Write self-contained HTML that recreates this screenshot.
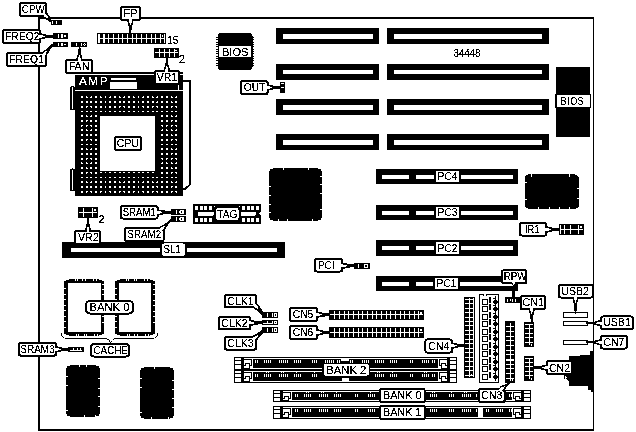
<!DOCTYPE html>
<html lang="en">
<head>
<meta charset="utf-8">
<title>Motherboard layout 34448</title>
<style>
html,body{margin:0;padding:0;background:#fff;}
body{width:636px;height:432px;overflow:hidden;}
svg{display:block;font-family:"Liberation Sans",Arial,Helvetica,sans-serif;font-size:11.5px;}
</style>
</head>
<body>
<svg width="636" height="432" viewBox="0 0 636 432">
<defs>
<filter id="bw" filterUnits="userSpaceOnUse" x="0" y="0" width="636" height="432" color-interpolation-filters="sRGB">
<feComponentTransfer>
<feFuncR type="discrete" tableValues="0 1"/>
<feFuncG type="discrete" tableValues="0 1"/>
<feFuncB type="discrete" tableValues="0 1"/>
</feComponentTransfer>
</filter>
</defs>
<g filter="url(#bw)" text-anchor="middle" stroke-linejoin="round">
<rect x="0" y="0" width="636" height="432" fill="#fff"/>
<rect x="38" y="17" width="2" height="414"/>
<rect x="38" y="17" width="556" height="2"/>
<rect x="593" y="17" width="1" height="414"/>
<rect x="38" y="429" width="556" height="2"/>
<rect x="276" y="28" width="103" height="16"/>
<rect x="283" y="34" width="90" height="5" fill="#fff"/>
<rect x="387" y="28" width="162" height="16"/>
<rect x="394" y="34" width="148" height="5" fill="#fff"/>
<rect x="276" y="64" width="103" height="16"/>
<rect x="283" y="70" width="90" height="4" fill="#fff"/>
<rect x="387" y="64" width="162" height="16"/>
<rect x="394" y="70" width="148" height="4" fill="#fff"/>
<rect x="276" y="99" width="103" height="16"/>
<rect x="283" y="105" width="90" height="5" fill="#fff"/>
<rect x="387" y="99" width="162" height="16"/>
<rect x="394" y="105" width="148" height="5" fill="#fff"/>
<rect x="276" y="134" width="103" height="16"/>
<rect x="283" y="140" width="90" height="5" fill="#fff"/>
<rect x="387" y="134" width="162" height="16"/>
<rect x="394" y="140" width="148" height="5" fill="#fff"/>
<text x="467" y="57" font-size="10.2" textLength="27" lengthAdjust="spacingAndGlyphs" stroke="#000" stroke-width="0.17">34448</text>
<rect x="376" y="169" width="142" height="15"/>
<rect x="382" y="175" width="27" height="4" fill="#fff"/>
<rect x="416" y="175" width="96.5" height="4" fill="#fff"/>
<rect x="434" y="170" width="27" height="13"/>
<rect x="436" y="171" width="23" height="11" rx="1" fill="#fff"/>
<text x="447.5" y="180.3" textLength="19.8" lengthAdjust="spacingAndGlyphs" stroke="#000" stroke-width="0.17">PC4</text>
<rect x="376" y="205" width="142" height="15"/>
<rect x="382" y="211" width="27" height="4" fill="#fff"/>
<rect x="416" y="211" width="96.5" height="4" fill="#fff"/>
<rect x="434" y="206" width="27" height="13"/>
<rect x="436" y="207" width="23" height="11" rx="1" fill="#fff"/>
<text x="447.5" y="216.3" textLength="19.8" lengthAdjust="spacingAndGlyphs" stroke="#000" stroke-width="0.17">PC3</text>
<rect x="376" y="240.5" width="142" height="15"/>
<rect x="382" y="246" width="27" height="4" fill="#fff"/>
<rect x="416" y="246" width="96.5" height="4" fill="#fff"/>
<rect x="434" y="241.5" width="27" height="13"/>
<rect x="436" y="242" width="23" height="12" rx="1" fill="#fff"/>
<text x="447.5" y="251.8" textLength="19.8" lengthAdjust="spacingAndGlyphs" stroke="#000" stroke-width="0.17">PC2</text>
<rect x="376" y="276" width="142" height="15"/>
<rect x="382" y="282" width="27" height="4" fill="#fff"/>
<rect x="416" y="282" width="96.5" height="4" fill="#fff"/>
<rect x="433" y="277" width="27" height="13"/>
<rect x="435" y="278" width="23" height="11" rx="1" fill="#fff"/>
<text x="446.5" y="287.3" textLength="19.8" lengthAdjust="spacingAndGlyphs" stroke="#000" stroke-width="0.17">PC1</text>
<rect x="62" y="242" width="223" height="16"/>
<rect x="71" y="248" width="206" height="4" fill="#fff"/>
<rect x="160.5" y="243" width="26" height="14"/>
<rect x="162" y="243.6" width="23" height="12.2" rx="1.8" fill="#fff"/>
<text x="172.3" y="253" textLength="17.4" lengthAdjust="spacingAndGlyphs" stroke="#000" stroke-width="0.17">SL1</text>
<rect x="75" y="72" width="108" height="2"/>
<rect x="75" y="75" width="108" height="14"/>
<rect x="72" y="89" width="111" height="1"/>
<rect x="75" y="91" width="108" height="105.4"/>
<rect x="111" y="78" width="25" height="2" fill="#fff"/>
<rect x="110" y="82" width="27" height="7" fill="#fff"/>
<rect x="178" y="85" width="1" height="5" fill="#fff"/>
<text x="79" y="84.6" font-size="11.8" text-anchor="start" fill="#fff" stroke="#fff" stroke-width="0.17" stroke-width="0" letter-spacing="1.5">AMP</text>
<rect x="70" y="86" width="5" height="24" rx="1.5"/>
<rect x="72" y="87.5" width="1" height="21" fill="#fff"/>
<rect x="70" y="168.5" width="5" height="22.5" rx="1.5"/>
<rect x="72" y="170" width="1" height="19.5" fill="#fff"/>
<polygon points="183,80.5 191,80.5 191,185 185.5,190 183,190"/>
<polygon points="183,82.5 189,82.5 189,184.2 185,187.8 183,187.8" fill="#fff"/>
<rect x="80.95" y="96.35" width="1.9" height="1.9" fill="#fff"/>
<rect x="80.95" y="101.07" width="1.9" height="1.9" fill="#fff"/>
<rect x="80.95" y="105.79" width="1.9" height="1.9" fill="#fff"/>
<rect x="80.95" y="110.51" width="1.9" height="1.9" fill="#fff"/>
<rect x="80.95" y="115.23" width="1.9" height="1.9" fill="#fff"/>
<rect x="80.95" y="119.95" width="1.9" height="1.9" fill="#fff"/>
<rect x="80.95" y="124.67" width="1.9" height="1.9" fill="#fff"/>
<rect x="80.95" y="129.39" width="1.9" height="1.9" fill="#fff"/>
<rect x="80.95" y="134.11" width="1.9" height="1.9" fill="#fff"/>
<rect x="80.95" y="138.83" width="1.9" height="1.9" fill="#fff"/>
<rect x="80.95" y="143.55" width="1.9" height="1.9" fill="#fff"/>
<rect x="80.95" y="148.27" width="1.9" height="1.9" fill="#fff"/>
<rect x="80.95" y="152.99" width="1.9" height="1.9" fill="#fff"/>
<rect x="80.95" y="157.71" width="1.9" height="1.9" fill="#fff"/>
<rect x="80.95" y="162.43" width="1.9" height="1.9" fill="#fff"/>
<rect x="80.95" y="167.15" width="1.9" height="1.9" fill="#fff"/>
<rect x="80.95" y="171.87" width="1.9" height="1.9" fill="#fff"/>
<rect x="80.95" y="176.59" width="1.9" height="1.9" fill="#fff"/>
<rect x="80.95" y="181.31" width="1.9" height="1.9" fill="#fff"/>
<rect x="80.95" y="186.03" width="1.9" height="1.9" fill="#fff"/>
<rect x="80.95" y="190.75" width="1.9" height="1.9" fill="#fff"/>
<rect x="85.67" y="96.35" width="1.9" height="1.9" fill="#fff"/>
<rect x="85.67" y="101.07" width="1.9" height="1.9" fill="#fff"/>
<rect x="85.67" y="105.79" width="1.9" height="1.9" fill="#fff"/>
<rect x="85.67" y="110.51" width="1.9" height="1.9" fill="#fff"/>
<rect x="85.67" y="115.23" width="1.9" height="1.9" fill="#fff"/>
<rect x="85.67" y="119.95" width="1.9" height="1.9" fill="#fff"/>
<rect x="85.67" y="124.67" width="1.9" height="1.9" fill="#fff"/>
<rect x="85.67" y="129.39" width="1.9" height="1.9" fill="#fff"/>
<rect x="85.67" y="134.11" width="1.9" height="1.9" fill="#fff"/>
<rect x="85.67" y="138.83" width="1.9" height="1.9" fill="#fff"/>
<rect x="85.67" y="143.55" width="1.9" height="1.9" fill="#fff"/>
<rect x="85.67" y="148.27" width="1.9" height="1.9" fill="#fff"/>
<rect x="85.67" y="152.99" width="1.9" height="1.9" fill="#fff"/>
<rect x="85.67" y="157.71" width="1.9" height="1.9" fill="#fff"/>
<rect x="85.67" y="162.43" width="1.9" height="1.9" fill="#fff"/>
<rect x="85.67" y="167.15" width="1.9" height="1.9" fill="#fff"/>
<rect x="85.67" y="171.87" width="1.9" height="1.9" fill="#fff"/>
<rect x="85.67" y="176.59" width="1.9" height="1.9" fill="#fff"/>
<rect x="85.67" y="181.31" width="1.9" height="1.9" fill="#fff"/>
<rect x="85.67" y="186.03" width="1.9" height="1.9" fill="#fff"/>
<rect x="85.67" y="190.75" width="1.9" height="1.9" fill="#fff"/>
<rect x="90.39" y="96.35" width="1.9" height="1.9" fill="#fff"/>
<rect x="90.39" y="101.07" width="1.9" height="1.9" fill="#fff"/>
<rect x="90.39" y="105.79" width="1.9" height="1.9" fill="#fff"/>
<rect x="90.39" y="110.51" width="1.9" height="1.9" fill="#fff"/>
<rect x="90.39" y="115.23" width="1.9" height="1.9" fill="#fff"/>
<rect x="90.39" y="119.95" width="1.9" height="1.9" fill="#fff"/>
<rect x="90.39" y="124.67" width="1.9" height="1.9" fill="#fff"/>
<rect x="90.39" y="129.39" width="1.9" height="1.9" fill="#fff"/>
<rect x="90.39" y="134.11" width="1.9" height="1.9" fill="#fff"/>
<rect x="90.39" y="138.83" width="1.9" height="1.9" fill="#fff"/>
<rect x="90.39" y="143.55" width="1.9" height="1.9" fill="#fff"/>
<rect x="90.39" y="148.27" width="1.9" height="1.9" fill="#fff"/>
<rect x="90.39" y="152.99" width="1.9" height="1.9" fill="#fff"/>
<rect x="90.39" y="157.71" width="1.9" height="1.9" fill="#fff"/>
<rect x="90.39" y="162.43" width="1.9" height="1.9" fill="#fff"/>
<rect x="90.39" y="167.15" width="1.9" height="1.9" fill="#fff"/>
<rect x="90.39" y="171.87" width="1.9" height="1.9" fill="#fff"/>
<rect x="90.39" y="176.59" width="1.9" height="1.9" fill="#fff"/>
<rect x="90.39" y="181.31" width="1.9" height="1.9" fill="#fff"/>
<rect x="90.39" y="186.03" width="1.9" height="1.9" fill="#fff"/>
<rect x="90.39" y="190.75" width="1.9" height="1.9" fill="#fff"/>
<rect x="95.11" y="96.35" width="1.9" height="1.9" fill="#fff"/>
<rect x="95.11" y="101.07" width="1.9" height="1.9" fill="#fff"/>
<rect x="95.11" y="105.79" width="1.9" height="1.9" fill="#fff"/>
<rect x="95.11" y="110.51" width="1.9" height="1.9" fill="#fff"/>
<rect x="95.11" y="115.23" width="1.9" height="1.9" fill="#fff"/>
<rect x="95.11" y="119.95" width="1.9" height="1.9" fill="#fff"/>
<rect x="95.11" y="124.67" width="1.9" height="1.9" fill="#fff"/>
<rect x="95.11" y="129.39" width="1.9" height="1.9" fill="#fff"/>
<rect x="95.11" y="134.11" width="1.9" height="1.9" fill="#fff"/>
<rect x="95.11" y="138.83" width="1.9" height="1.9" fill="#fff"/>
<rect x="95.11" y="143.55" width="1.9" height="1.9" fill="#fff"/>
<rect x="95.11" y="148.27" width="1.9" height="1.9" fill="#fff"/>
<rect x="95.11" y="152.99" width="1.9" height="1.9" fill="#fff"/>
<rect x="95.11" y="157.71" width="1.9" height="1.9" fill="#fff"/>
<rect x="95.11" y="162.43" width="1.9" height="1.9" fill="#fff"/>
<rect x="95.11" y="167.15" width="1.9" height="1.9" fill="#fff"/>
<rect x="95.11" y="171.87" width="1.9" height="1.9" fill="#fff"/>
<rect x="95.11" y="176.59" width="1.9" height="1.9" fill="#fff"/>
<rect x="95.11" y="181.31" width="1.9" height="1.9" fill="#fff"/>
<rect x="95.11" y="186.03" width="1.9" height="1.9" fill="#fff"/>
<rect x="95.11" y="190.75" width="1.9" height="1.9" fill="#fff"/>
<rect x="99.83" y="96.35" width="1.9" height="1.9" fill="#fff"/>
<rect x="99.83" y="101.07" width="1.9" height="1.9" fill="#fff"/>
<rect x="99.83" y="105.79" width="1.9" height="1.9" fill="#fff"/>
<rect x="99.83" y="110.51" width="1.9" height="1.9" fill="#fff"/>
<rect x="99.78" y="172.02" width="2" height="1" fill="#fff"/>
<rect x="99.83" y="176.59" width="1.9" height="1.9" fill="#fff"/>
<rect x="99.83" y="181.31" width="1.9" height="1.9" fill="#fff"/>
<rect x="99.83" y="186.03" width="1.9" height="1.9" fill="#fff"/>
<rect x="99.83" y="190.75" width="1.9" height="1.9" fill="#fff"/>
<rect x="104.55" y="96.35" width="1.9" height="1.9" fill="#fff"/>
<rect x="104.55" y="101.07" width="1.9" height="1.9" fill="#fff"/>
<rect x="104.55" y="105.79" width="1.9" height="1.9" fill="#fff"/>
<rect x="104.55" y="110.51" width="1.9" height="1.9" fill="#fff"/>
<rect x="104.5" y="172.02" width="2" height="1" fill="#fff"/>
<rect x="104.55" y="176.59" width="1.9" height="1.9" fill="#fff"/>
<rect x="104.55" y="181.31" width="1.9" height="1.9" fill="#fff"/>
<rect x="104.55" y="186.03" width="1.9" height="1.9" fill="#fff"/>
<rect x="104.55" y="190.75" width="1.9" height="1.9" fill="#fff"/>
<rect x="109.27" y="96.35" width="1.9" height="1.9" fill="#fff"/>
<rect x="109.27" y="101.07" width="1.9" height="1.9" fill="#fff"/>
<rect x="109.27" y="105.79" width="1.9" height="1.9" fill="#fff"/>
<rect x="109.27" y="110.51" width="1.9" height="1.9" fill="#fff"/>
<rect x="109.22" y="172.02" width="2" height="1" fill="#fff"/>
<rect x="109.27" y="176.59" width="1.9" height="1.9" fill="#fff"/>
<rect x="109.27" y="181.31" width="1.9" height="1.9" fill="#fff"/>
<rect x="109.27" y="186.03" width="1.9" height="1.9" fill="#fff"/>
<rect x="109.27" y="190.75" width="1.9" height="1.9" fill="#fff"/>
<rect x="113.99" y="96.35" width="1.9" height="1.9" fill="#fff"/>
<rect x="113.99" y="101.07" width="1.9" height="1.9" fill="#fff"/>
<rect x="113.99" y="105.79" width="1.9" height="1.9" fill="#fff"/>
<rect x="113.99" y="110.51" width="1.9" height="1.9" fill="#fff"/>
<rect x="113.94" y="172.02" width="2" height="1" fill="#fff"/>
<rect x="113.99" y="176.59" width="1.9" height="1.9" fill="#fff"/>
<rect x="113.99" y="181.31" width="1.9" height="1.9" fill="#fff"/>
<rect x="113.99" y="186.03" width="1.9" height="1.9" fill="#fff"/>
<rect x="113.99" y="190.75" width="1.9" height="1.9" fill="#fff"/>
<rect x="118.71" y="96.35" width="1.9" height="1.9" fill="#fff"/>
<rect x="118.71" y="101.07" width="1.9" height="1.9" fill="#fff"/>
<rect x="118.71" y="105.79" width="1.9" height="1.9" fill="#fff"/>
<rect x="118.71" y="110.51" width="1.9" height="1.9" fill="#fff"/>
<rect x="118.66" y="172.02" width="2" height="1" fill="#fff"/>
<rect x="118.71" y="176.59" width="1.9" height="1.9" fill="#fff"/>
<rect x="118.71" y="181.31" width="1.9" height="1.9" fill="#fff"/>
<rect x="118.71" y="186.03" width="1.9" height="1.9" fill="#fff"/>
<rect x="118.71" y="190.75" width="1.9" height="1.9" fill="#fff"/>
<rect x="123.43" y="96.35" width="1.9" height="1.9" fill="#fff"/>
<rect x="123.43" y="101.07" width="1.9" height="1.9" fill="#fff"/>
<rect x="123.43" y="105.79" width="1.9" height="1.9" fill="#fff"/>
<rect x="123.43" y="110.51" width="1.9" height="1.9" fill="#fff"/>
<rect x="123.38" y="172.02" width="2" height="1" fill="#fff"/>
<rect x="123.43" y="176.59" width="1.9" height="1.9" fill="#fff"/>
<rect x="123.43" y="181.31" width="1.9" height="1.9" fill="#fff"/>
<rect x="123.43" y="186.03" width="1.9" height="1.9" fill="#fff"/>
<rect x="123.43" y="190.75" width="1.9" height="1.9" fill="#fff"/>
<rect x="128.15" y="96.35" width="1.9" height="1.9" fill="#fff"/>
<rect x="128.15" y="101.07" width="1.9" height="1.9" fill="#fff"/>
<rect x="128.15" y="105.79" width="1.9" height="1.9" fill="#fff"/>
<rect x="128.15" y="110.51" width="1.9" height="1.9" fill="#fff"/>
<rect x="128.1" y="172.02" width="2" height="1" fill="#fff"/>
<rect x="128.15" y="176.59" width="1.9" height="1.9" fill="#fff"/>
<rect x="128.15" y="181.31" width="1.9" height="1.9" fill="#fff"/>
<rect x="128.15" y="186.03" width="1.9" height="1.9" fill="#fff"/>
<rect x="128.15" y="190.75" width="1.9" height="1.9" fill="#fff"/>
<rect x="132.87" y="96.35" width="1.9" height="1.9" fill="#fff"/>
<rect x="132.87" y="101.07" width="1.9" height="1.9" fill="#fff"/>
<rect x="132.87" y="105.79" width="1.9" height="1.9" fill="#fff"/>
<rect x="132.87" y="110.51" width="1.9" height="1.9" fill="#fff"/>
<rect x="132.82" y="172.02" width="2" height="1" fill="#fff"/>
<rect x="132.87" y="176.59" width="1.9" height="1.9" fill="#fff"/>
<rect x="132.87" y="181.31" width="1.9" height="1.9" fill="#fff"/>
<rect x="132.87" y="186.03" width="1.9" height="1.9" fill="#fff"/>
<rect x="132.87" y="190.75" width="1.9" height="1.9" fill="#fff"/>
<rect x="137.59" y="96.35" width="1.9" height="1.9" fill="#fff"/>
<rect x="137.59" y="101.07" width="1.9" height="1.9" fill="#fff"/>
<rect x="137.59" y="105.79" width="1.9" height="1.9" fill="#fff"/>
<rect x="137.59" y="110.51" width="1.9" height="1.9" fill="#fff"/>
<rect x="137.54" y="172.02" width="2" height="1" fill="#fff"/>
<rect x="137.59" y="176.59" width="1.9" height="1.9" fill="#fff"/>
<rect x="137.59" y="181.31" width="1.9" height="1.9" fill="#fff"/>
<rect x="137.59" y="186.03" width="1.9" height="1.9" fill="#fff"/>
<rect x="137.59" y="190.75" width="1.9" height="1.9" fill="#fff"/>
<rect x="142.31" y="96.35" width="1.9" height="1.9" fill="#fff"/>
<rect x="142.31" y="101.07" width="1.9" height="1.9" fill="#fff"/>
<rect x="142.31" y="105.79" width="1.9" height="1.9" fill="#fff"/>
<rect x="142.31" y="110.51" width="1.9" height="1.9" fill="#fff"/>
<rect x="142.26" y="172.02" width="2" height="1" fill="#fff"/>
<rect x="142.31" y="176.59" width="1.9" height="1.9" fill="#fff"/>
<rect x="142.31" y="181.31" width="1.9" height="1.9" fill="#fff"/>
<rect x="142.31" y="186.03" width="1.9" height="1.9" fill="#fff"/>
<rect x="142.31" y="190.75" width="1.9" height="1.9" fill="#fff"/>
<rect x="147.03" y="96.35" width="1.9" height="1.9" fill="#fff"/>
<rect x="147.03" y="101.07" width="1.9" height="1.9" fill="#fff"/>
<rect x="147.03" y="105.79" width="1.9" height="1.9" fill="#fff"/>
<rect x="147.03" y="110.51" width="1.9" height="1.9" fill="#fff"/>
<rect x="146.98" y="172.02" width="2" height="1" fill="#fff"/>
<rect x="147.03" y="176.59" width="1.9" height="1.9" fill="#fff"/>
<rect x="147.03" y="181.31" width="1.9" height="1.9" fill="#fff"/>
<rect x="147.03" y="186.03" width="1.9" height="1.9" fill="#fff"/>
<rect x="147.03" y="190.75" width="1.9" height="1.9" fill="#fff"/>
<rect x="151.75" y="96.35" width="1.9" height="1.9" fill="#fff"/>
<rect x="151.75" y="101.07" width="1.9" height="1.9" fill="#fff"/>
<rect x="151.75" y="105.79" width="1.9" height="1.9" fill="#fff"/>
<rect x="151.75" y="110.51" width="1.9" height="1.9" fill="#fff"/>
<rect x="151.7" y="172.02" width="2" height="1" fill="#fff"/>
<rect x="151.75" y="176.59" width="1.9" height="1.9" fill="#fff"/>
<rect x="151.75" y="181.31" width="1.9" height="1.9" fill="#fff"/>
<rect x="151.75" y="186.03" width="1.9" height="1.9" fill="#fff"/>
<rect x="151.75" y="190.75" width="1.9" height="1.9" fill="#fff"/>
<rect x="156.47" y="96.35" width="1.9" height="1.9" fill="#fff"/>
<rect x="156.47" y="101.07" width="1.9" height="1.9" fill="#fff"/>
<rect x="156.47" y="105.79" width="1.9" height="1.9" fill="#fff"/>
<rect x="156.47" y="110.51" width="1.9" height="1.9" fill="#fff"/>
<rect x="156.47" y="176.59" width="1.9" height="1.9" fill="#fff"/>
<rect x="156.47" y="181.31" width="1.9" height="1.9" fill="#fff"/>
<rect x="156.47" y="186.03" width="1.9" height="1.9" fill="#fff"/>
<rect x="156.47" y="190.75" width="1.9" height="1.9" fill="#fff"/>
<rect x="161.19" y="96.35" width="1.9" height="1.9" fill="#fff"/>
<rect x="161.19" y="101.07" width="1.9" height="1.9" fill="#fff"/>
<rect x="161.19" y="105.79" width="1.9" height="1.9" fill="#fff"/>
<rect x="161.19" y="110.51" width="1.9" height="1.9" fill="#fff"/>
<rect x="161.19" y="115.23" width="1.9" height="1.9" fill="#fff"/>
<rect x="161.19" y="119.95" width="1.9" height="1.9" fill="#fff"/>
<rect x="161.19" y="124.67" width="1.9" height="1.9" fill="#fff"/>
<rect x="161.19" y="129.39" width="1.9" height="1.9" fill="#fff"/>
<rect x="161.19" y="134.11" width="1.9" height="1.9" fill="#fff"/>
<rect x="161.19" y="138.83" width="1.9" height="1.9" fill="#fff"/>
<rect x="161.19" y="143.55" width="1.9" height="1.9" fill="#fff"/>
<rect x="161.19" y="148.27" width="1.9" height="1.9" fill="#fff"/>
<rect x="161.19" y="152.99" width="1.9" height="1.9" fill="#fff"/>
<rect x="161.19" y="157.71" width="1.9" height="1.9" fill="#fff"/>
<rect x="161.19" y="162.43" width="1.9" height="1.9" fill="#fff"/>
<rect x="161.19" y="167.15" width="1.9" height="1.9" fill="#fff"/>
<rect x="161.19" y="171.87" width="1.9" height="1.9" fill="#fff"/>
<rect x="161.19" y="176.59" width="1.9" height="1.9" fill="#fff"/>
<rect x="161.19" y="181.31" width="1.9" height="1.9" fill="#fff"/>
<rect x="161.19" y="186.03" width="1.9" height="1.9" fill="#fff"/>
<rect x="161.19" y="190.75" width="1.9" height="1.9" fill="#fff"/>
<rect x="165.91" y="96.35" width="1.9" height="1.9" fill="#fff"/>
<rect x="165.91" y="101.07" width="1.9" height="1.9" fill="#fff"/>
<rect x="165.91" y="105.79" width="1.9" height="1.9" fill="#fff"/>
<rect x="165.91" y="110.51" width="1.9" height="1.9" fill="#fff"/>
<rect x="165.91" y="115.23" width="1.9" height="1.9" fill="#fff"/>
<rect x="165.91" y="119.95" width="1.9" height="1.9" fill="#fff"/>
<rect x="165.91" y="124.67" width="1.9" height="1.9" fill="#fff"/>
<rect x="165.91" y="129.39" width="1.9" height="1.9" fill="#fff"/>
<rect x="165.91" y="134.11" width="1.9" height="1.9" fill="#fff"/>
<rect x="165.91" y="138.83" width="1.9" height="1.9" fill="#fff"/>
<rect x="165.91" y="143.55" width="1.9" height="1.9" fill="#fff"/>
<rect x="165.91" y="148.27" width="1.9" height="1.9" fill="#fff"/>
<rect x="165.91" y="152.99" width="1.9" height="1.9" fill="#fff"/>
<rect x="165.91" y="157.71" width="1.9" height="1.9" fill="#fff"/>
<rect x="165.91" y="162.43" width="1.9" height="1.9" fill="#fff"/>
<rect x="165.91" y="167.15" width="1.9" height="1.9" fill="#fff"/>
<rect x="165.91" y="171.87" width="1.9" height="1.9" fill="#fff"/>
<rect x="165.91" y="176.59" width="1.9" height="1.9" fill="#fff"/>
<rect x="165.91" y="181.31" width="1.9" height="1.9" fill="#fff"/>
<rect x="165.91" y="186.03" width="1.9" height="1.9" fill="#fff"/>
<rect x="165.91" y="190.75" width="1.9" height="1.9" fill="#fff"/>
<rect x="170.63" y="96.35" width="1.9" height="1.9" fill="#fff"/>
<rect x="170.63" y="101.07" width="1.9" height="1.9" fill="#fff"/>
<rect x="170.63" y="105.79" width="1.9" height="1.9" fill="#fff"/>
<rect x="170.63" y="110.51" width="1.9" height="1.9" fill="#fff"/>
<rect x="170.63" y="115.23" width="1.9" height="1.9" fill="#fff"/>
<rect x="170.63" y="119.95" width="1.9" height="1.9" fill="#fff"/>
<rect x="170.63" y="124.67" width="1.9" height="1.9" fill="#fff"/>
<rect x="170.63" y="129.39" width="1.9" height="1.9" fill="#fff"/>
<rect x="170.63" y="134.11" width="1.9" height="1.9" fill="#fff"/>
<rect x="170.63" y="138.83" width="1.9" height="1.9" fill="#fff"/>
<rect x="170.63" y="143.55" width="1.9" height="1.9" fill="#fff"/>
<rect x="170.63" y="148.27" width="1.9" height="1.9" fill="#fff"/>
<rect x="170.63" y="152.99" width="1.9" height="1.9" fill="#fff"/>
<rect x="170.63" y="157.71" width="1.9" height="1.9" fill="#fff"/>
<rect x="170.63" y="162.43" width="1.9" height="1.9" fill="#fff"/>
<rect x="170.63" y="167.15" width="1.9" height="1.9" fill="#fff"/>
<rect x="170.63" y="171.87" width="1.9" height="1.9" fill="#fff"/>
<rect x="170.63" y="176.59" width="1.9" height="1.9" fill="#fff"/>
<rect x="170.63" y="181.31" width="1.9" height="1.9" fill="#fff"/>
<rect x="170.63" y="186.03" width="1.9" height="1.9" fill="#fff"/>
<rect x="170.63" y="190.75" width="1.9" height="1.9" fill="#fff"/>
<rect x="175.35" y="96.35" width="1.9" height="1.9" fill="#fff"/>
<rect x="175.35" y="101.07" width="1.9" height="1.9" fill="#fff"/>
<rect x="175.35" y="105.79" width="1.9" height="1.9" fill="#fff"/>
<rect x="175.35" y="110.51" width="1.9" height="1.9" fill="#fff"/>
<rect x="175.35" y="115.23" width="1.9" height="1.9" fill="#fff"/>
<rect x="175.35" y="119.95" width="1.9" height="1.9" fill="#fff"/>
<rect x="175.35" y="124.67" width="1.9" height="1.9" fill="#fff"/>
<rect x="175.35" y="129.39" width="1.9" height="1.9" fill="#fff"/>
<rect x="175.35" y="134.11" width="1.9" height="1.9" fill="#fff"/>
<rect x="175.35" y="138.83" width="1.9" height="1.9" fill="#fff"/>
<rect x="175.35" y="143.55" width="1.9" height="1.9" fill="#fff"/>
<rect x="175.35" y="148.27" width="1.9" height="1.9" fill="#fff"/>
<rect x="175.35" y="152.99" width="1.9" height="1.9" fill="#fff"/>
<rect x="175.35" y="157.71" width="1.9" height="1.9" fill="#fff"/>
<rect x="175.35" y="162.43" width="1.9" height="1.9" fill="#fff"/>
<rect x="175.35" y="167.15" width="1.9" height="1.9" fill="#fff"/>
<rect x="175.35" y="171.87" width="1.9" height="1.9" fill="#fff"/>
<rect x="175.35" y="176.59" width="1.9" height="1.9" fill="#fff"/>
<rect x="175.35" y="181.31" width="1.9" height="1.9" fill="#fff"/>
<rect x="175.35" y="186.03" width="1.9" height="1.9" fill="#fff"/>
<rect x="175.35" y="190.75" width="1.9" height="1.9" fill="#fff"/>
<rect x="99.6" y="115.8" width="55.4" height="54.9" fill="#fff"/>
<rect x="114" y="136" width="28" height="15" rx="3"/>
<rect x="116" y="138" width="24" height="11" rx="1" fill="#fff"/>
<text x="128" y="147" textLength="22.5" lengthAdjust="spacingAndGlyphs" stroke="#000" stroke-width="0.17">CPU</text>
<polygon points="273,168 318,168 318,169 321,169 321,171 322,171 322,218 321,218 321,220 318,220 318,221 273,221 273,220 270,220 270,218 269,218 269,171 270,171 270,169 273,169"/>
<rect x="269" y="186" width="2" height="1" fill="#fff"/>
<rect x="269" y="195" width="2" height="1" fill="#fff"/>
<rect x="269" y="204" width="2" height="1" fill="#fff"/>
<rect x="269" y="212" width="2" height="1" fill="#fff"/>
<rect x="320" y="176" width="2" height="1" fill="#fff"/>
<rect x="320" y="184" width="2" height="1" fill="#fff"/>
<rect x="320" y="193" width="2" height="1" fill="#fff"/>
<rect x="320" y="209" width="2" height="1" fill="#fff"/>
<rect x="283" y="168" width="1" height="2" fill="#fff"/>
<rect x="308" y="168" width="1" height="2" fill="#fff"/>
<rect x="278" y="219" width="1" height="2" fill="#fff"/>
<rect x="287" y="219" width="1" height="2" fill="#fff"/>
<rect x="312" y="219" width="1" height="2" fill="#fff"/>
<polygon points="528,174.5 575.5,174.5 575.5,175.5 577.5,175.5 577.5,176.5 578.5,176.5 578.5,207 577.5,207 577.5,208 575.5,208 575.5,209 528,209 528,208 526,208 526,207 525,207 525,176.5 526,176.5 526,175.5 528,175.5"/>
<rect x="525" y="182" width="2" height="1" fill="#fff"/>
<rect x="525" y="199" width="2" height="1" fill="#fff"/>
<rect x="576.5" y="188" width="2" height="1" fill="#fff"/>
<rect x="576.5" y="198" width="2" height="1" fill="#fff"/>
<rect x="531" y="174.5" width="1" height="2" fill="#fff"/>
<rect x="569" y="174.5" width="1" height="2" fill="#fff"/>
<rect x="538" y="207" width="1" height="2" fill="#fff"/>
<rect x="549" y="207" width="1" height="2" fill="#fff"/>
<rect x="559" y="207" width="1" height="2" fill="#fff"/>
<rect x="569" y="207" width="1" height="2" fill="#fff"/>
<polygon points="70,365 96,365 96,366 99,366 99,368 100,368 100,414 99,414 99,416 96,416 96,417 70,417 70,416 67,416 67,414 66,414 66,368 67,368 67,366 70,366"/>
<rect x="79" y="365" width="1" height="2" fill="#fff"/>
<rect x="86" y="365" width="1" height="2" fill="#fff"/>
<rect x="66" y="376" width="2" height="1" fill="#fff"/>
<rect x="66" y="385" width="2" height="1" fill="#fff"/>
<rect x="66" y="410" width="2" height="1" fill="#fff"/>
<rect x="98" y="378" width="2" height="1" fill="#fff"/>
<rect x="98" y="388" width="2" height="1" fill="#fff"/>
<rect x="98" y="396" width="2" height="1" fill="#fff"/>
<rect x="98" y="406" width="2" height="1" fill="#fff"/>
<rect x="84" y="415" width="1" height="2" fill="#fff"/>
<rect x="95" y="415" width="1" height="2" fill="#fff"/>
<polygon points="144,367 170,367 170,368 173,368 173,370 174,370 174,416 173,416 173,418 170,418 170,419 144,419 144,418 141,418 141,416 140,416 140,370 141,370 141,368 144,368"/>
<rect x="154" y="367" width="1" height="2" fill="#fff"/>
<rect x="140" y="378" width="2" height="1" fill="#fff"/>
<rect x="140" y="387" width="2" height="1" fill="#fff"/>
<rect x="140" y="412" width="2" height="1" fill="#fff"/>
<rect x="172" y="380" width="2" height="1" fill="#fff"/>
<rect x="172" y="389" width="2" height="1" fill="#fff"/>
<rect x="172" y="398" width="2" height="1" fill="#fff"/>
<rect x="172" y="407" width="2" height="1" fill="#fff"/>
<rect x="151" y="417" width="1" height="2" fill="#fff"/>
<rect x="168" y="417" width="1" height="2" fill="#fff"/>
<polygon points="219,33 251,33 251,34 252,34 252,36 252.5,36 252.5,67 252,67 252,69 251,69 251,70 219,70 219,69 218,69 218,67 218,36 218,34 219,34"/>
<rect x="216" y="37" width="2.5" height="1"/>
<rect x="252" y="37" width="2.5" height="1"/>
<rect x="216" y="39" width="2.5" height="1"/>
<rect x="252" y="39" width="2.5" height="1"/>
<rect x="216" y="42" width="2.5" height="1"/>
<rect x="252" y="42" width="2.5" height="1"/>
<rect x="216" y="44" width="2.5" height="1"/>
<rect x="252" y="44" width="2.5" height="1"/>
<rect x="216" y="46" width="2.5" height="1"/>
<rect x="252" y="46" width="2.5" height="1"/>
<rect x="216" y="49" width="2.5" height="1"/>
<rect x="252" y="49" width="2.5" height="1"/>
<rect x="216" y="51" width="2.5" height="1"/>
<rect x="252" y="51" width="2.5" height="1"/>
<rect x="216" y="53" width="2.5" height="1"/>
<rect x="252" y="53" width="2.5" height="1"/>
<rect x="216" y="56" width="2.5" height="1"/>
<rect x="252" y="56" width="2.5" height="1"/>
<rect x="216" y="58" width="2.5" height="1"/>
<rect x="252" y="58" width="2.5" height="1"/>
<rect x="216" y="60" width="2.5" height="1"/>
<rect x="252" y="60" width="2.5" height="1"/>
<rect x="216" y="63" width="2.5" height="1"/>
<rect x="252" y="63" width="2.5" height="1"/>
<rect x="216" y="65" width="2.5" height="1"/>
<rect x="252" y="65" width="2.5" height="1"/>
<rect x="219" y="46" width="32" height="11" fill="#fff"/>
<text x="235.2" y="55.9" textLength="26.5" lengthAdjust="spacingAndGlyphs" stroke="#000" stroke-width="0.17">BIOS</text>
<rect x="556" y="67" width="34" height="70"/>
<rect x="555" y="94" width="36" height="14"/>
<rect x="557" y="95" width="32.5" height="12" fill="#fff"/>
<text x="572.6" y="105" textLength="23.5" lengthAdjust="spacingAndGlyphs" stroke="#000" stroke-width="0.17" stroke-width="0.1" letter-spacing="1">BIOS</text>
<polygon points="69,279 99,279 99,280 102,280 102,281 104,281 104,334 102,334 102,335 99,335 99,336 69,336 69,335 66,335 66,334 64,334 64,281 66,281 66,280 69,280"/>
<rect x="68" y="283" width="32.5" height="49" fill="#fff"/>
<rect x="75" y="279" width="1" height="2" fill="#fff"/>
<rect x="76" y="334" width="1" height="2" fill="#fff"/>
<rect x="77" y="279" width="1" height="2" fill="#fff"/>
<rect x="78" y="334" width="1" height="2" fill="#fff"/>
<rect x="82" y="279" width="1" height="2" fill="#fff"/>
<rect x="84" y="334" width="1" height="2" fill="#fff"/>
<rect x="85" y="279" width="1" height="2" fill="#fff"/>
<rect x="86" y="334" width="1" height="2" fill="#fff"/>
<rect x="93" y="279" width="1" height="2" fill="#fff"/>
<rect x="94" y="334" width="1" height="2" fill="#fff"/>
<rect x="96" y="279" width="1" height="2" fill="#fff"/>
<rect x="97" y="334" width="1" height="2" fill="#fff"/>
<rect x="64" y="288" width="2" height="1" fill="#fff"/>
<rect x="102" y="284" width="2" height="1" fill="#fff"/>
<rect x="64" y="294" width="2" height="1" fill="#fff"/>
<rect x="102" y="289" width="2" height="1" fill="#fff"/>
<rect x="64" y="299" width="2" height="1" fill="#fff"/>
<rect x="102" y="294" width="2" height="1" fill="#fff"/>
<rect x="64" y="305" width="2" height="1" fill="#fff"/>
<rect x="102" y="300" width="2" height="1" fill="#fff"/>
<rect x="64" y="310" width="2" height="1" fill="#fff"/>
<rect x="102" y="305" width="2" height="1" fill="#fff"/>
<rect x="64" y="316" width="2" height="1" fill="#fff"/>
<rect x="102" y="311" width="2" height="1" fill="#fff"/>
<rect x="64" y="321" width="2" height="1" fill="#fff"/>
<rect x="102" y="316" width="2" height="1" fill="#fff"/>
<rect x="64" y="327" width="2" height="1" fill="#fff"/>
<rect x="102" y="322" width="2" height="1" fill="#fff"/>
<polygon points="120,279 149.5,279 149.5,280 152.5,280 152.5,281 154.5,281 154.5,334 152.5,334 152.5,335 149.5,335 149.5,336 120,336 120,335 117,335 117,334 115,334 115,281 117,281 117,280 120,280"/>
<rect x="119" y="283" width="32" height="49" fill="#fff"/>
<rect x="126" y="279" width="1" height="2" fill="#fff"/>
<rect x="127" y="334" width="1" height="2" fill="#fff"/>
<rect x="128" y="279" width="1" height="2" fill="#fff"/>
<rect x="129" y="334" width="1" height="2" fill="#fff"/>
<rect x="134" y="279" width="1" height="2" fill="#fff"/>
<rect x="134" y="334" width="1" height="2" fill="#fff"/>
<rect x="136" y="279" width="1" height="2" fill="#fff"/>
<rect x="137" y="334" width="1" height="2" fill="#fff"/>
<rect x="144" y="279" width="1" height="2" fill="#fff"/>
<rect x="145" y="334" width="1" height="2" fill="#fff"/>
<rect x="147" y="279" width="1" height="2" fill="#fff"/>
<rect x="148" y="334" width="1" height="2" fill="#fff"/>
<rect x="115" y="288" width="2" height="1" fill="#fff"/>
<rect x="152.5" y="284" width="2" height="1" fill="#fff"/>
<rect x="115" y="294" width="2" height="1" fill="#fff"/>
<rect x="152.5" y="289" width="2" height="1" fill="#fff"/>
<rect x="115" y="299" width="2" height="1" fill="#fff"/>
<rect x="152.5" y="294" width="2" height="1" fill="#fff"/>
<rect x="115" y="305" width="2" height="1" fill="#fff"/>
<rect x="152.5" y="300" width="2" height="1" fill="#fff"/>
<rect x="115" y="310" width="2" height="1" fill="#fff"/>
<rect x="152.5" y="305" width="2" height="1" fill="#fff"/>
<rect x="115" y="316" width="2" height="1" fill="#fff"/>
<rect x="152.5" y="311" width="2" height="1" fill="#fff"/>
<rect x="115" y="321" width="2" height="1" fill="#fff"/>
<rect x="152.5" y="316" width="2" height="1" fill="#fff"/>
<rect x="115" y="327" width="2" height="1" fill="#fff"/>
<rect x="152.5" y="322" width="2" height="1" fill="#fff"/>
<rect x="85" y="300" width="49" height="14.4" rx="5"/>
<rect x="87" y="302" width="45" height="10.4" rx="3" fill="#fff"/>
<text x="109.5" y="311" textLength="40" lengthAdjust="spacingAndGlyphs" stroke="#000" stroke-width="0.17">BANK 0</text>
<path d="M61 332.3 Q61.6 338.3 66 338.3 L104.5 338.3 Q109 338.3 110.6 343 Q112.2 338.3 116.5 338.3 L153 338.3 Q157.3 338.3 158 332.3" fill="none" stroke="#000" stroke-width="0.9"/>
<rect x="90" y="343" width="40" height="14.6" rx="3.5"/>
<rect x="92" y="345" width="36" height="10.6" rx="1.5" fill="#fff"/>
<text x="110.7" y="354" textLength="34.5" lengthAdjust="spacingAndGlyphs" stroke="#000" stroke-width="0.17">CACHE</text>
<rect x="19" y="2" width="28" height="15" rx="2.5"/>
<rect x="21" y="4" width="24" height="11" rx="0.5" fill="#fff"/>
<text x="33.3" y="13" textLength="23" lengthAdjust="spacingAndGlyphs" stroke="#000" stroke-width="0.17">CPW</text>
<polygon points="42.86,16.89 43.9,17.97 48.72,20.96 51.71,23.47 53.29,21.93 50.89,18.87 48.07,13.94 47.03,12.86"/>
<polygon points="42.48,14.34 44.7,16.64 48.49,18.55 46.71,14.7 44.49,12.4" fill="#fff"/>
<rect x="51" y="20" width="11" height="5"/>
<rect x="52" y="21" width="1" height="3" fill="#fff"/>
<rect x="56" y="21" width="1" height="3" fill="#fff"/>
<rect x="2" y="29" width="39" height="15" rx="2.5"/>
<rect x="4" y="31" width="35" height="11" rx="0.5" fill="#fff"/>
<text x="22.2" y="40" textLength="34.5" lengthAdjust="spacingAndGlyphs" stroke="#000" stroke-width="0.17">FREQ2</text>
<polygon points="40.54,39.38 42.04,39.36 47.52,38.06 54.02,37.57 53.98,35.03 47.48,34.71 41.96,33.56 40.46,33.58"/>
<polygon points="38.42,37.91 41.62,37.87 45.6,36.41 41.58,35.07 38.38,35.11" fill="#fff"/>
<rect x="53" y="33" width="15" height="6"/>
<rect x="58" y="34" width="1" height="4" fill="#fff"/>
<rect x="61.5" y="34" width="1" height="4" fill="#fff"/>
<rect x="64" y="35" width="2" height="2" fill="#fff"/>
<rect x="6" y="52" width="41" height="15" rx="2.5"/>
<rect x="8" y="54" width="37" height="11" rx="0.5" fill="#fff"/>
<text x="26.5" y="63" textLength="34.5" lengthAdjust="spacingAndGlyphs" stroke="#000" stroke-width="0.17">FREQ1</text>
<polygon points="45.87,56.3 46.92,55.23 49.82,50.37 55.05,44.43 53.35,42.77 47.54,48.15 42.77,51.18 41.72,52.25"/>
<polygon points="43.33,56.76 45.57,54.46 47.36,50.62 43.56,52.51 41.33,54.8" fill="#fff"/>
<rect x="53" y="42" width="15" height="5"/>
<rect x="58" y="43" width="1" height="3" fill="#fff"/>
<rect x="61.5" y="43" width="1" height="3" fill="#fff"/>
<rect x="64" y="44" width="2" height="1" fill="#fff"/>
<rect x="65" y="59" width="28" height="15" rx="2.5"/>
<rect x="67" y="61" width="24" height="11" rx="0.5" fill="#fff"/>
<text x="79" y="70" textLength="20.5" lengthAdjust="spacingAndGlyphs" stroke="#000" stroke-width="0.17">FAN</text>
<polygon points="82.23,59.56 82.26,58.06 80.73,52.53 80.45,46.52 78.75,46.48 78.23,52.48 76.46,57.94 76.43,59.44"/>
<polygon points="80.69,61.63 80.75,58.43 79.44,54.4 77.95,58.37 77.89,61.57" fill="#fff"/>
<rect x="71" y="42" width="16" height="5"/>
<rect x="76" y="43" width="1" height="3" fill="#fff"/>
<rect x="81" y="43" width="1" height="3" fill="#fff"/>
<rect x="83.5" y="43.5" width="2" height="2" fill="#fff"/>
<rect x="84.2" y="44" width="0.8" height="1"/>
<rect x="97" y="33" width="69" height="11"/>
<rect x="100" y="38" width="65" height="1" fill="#fff"/>
<rect x="98" y="34" width="2" height="9" fill="#fff"/>
<rect x="103" y="34" width="2" height="9" fill="#fff"/>
<rect x="108" y="34" width="1" height="9" fill="#fff"/>
<rect x="113" y="34" width="1" height="9" fill="#fff"/>
<rect x="118" y="34" width="1" height="9" fill="#fff"/>
<rect x="122" y="34" width="1" height="9" fill="#fff"/>
<rect x="127" y="34" width="1" height="9" fill="#fff"/>
<rect x="132" y="34" width="1" height="9" fill="#fff"/>
<rect x="136" y="34" width="1" height="9" fill="#fff"/>
<rect x="141" y="34" width="1" height="9" fill="#fff"/>
<rect x="146" y="34" width="1" height="9" fill="#fff"/>
<rect x="151" y="34" width="1" height="9" fill="#fff"/>
<rect x="155" y="34" width="1" height="9" fill="#fff"/>
<rect x="160" y="34" width="1" height="9" fill="#fff"/>
<rect x="164" y="34" width="1" height="9" fill="#fff"/>
<rect x="161.6" y="35" width="1.4" height="2" fill="#fff"/>
<rect x="120" y="6" width="21" height="15" rx="2.5"/>
<rect x="122" y="8" width="17" height="11" rx="0.5" fill="#fff"/>
<text x="130.5" y="17" textLength="14.3" lengthAdjust="spacingAndGlyphs" stroke="#000" stroke-width="0.17">FP</text>
<polygon points="127.5,20.7 127.5,22.2 129.15,27.7 129.55,33.5 131.25,33.5 131.65,27.7 133.3,22.2 133.3,20.7"/>
<polygon points="129,18.6 129,21.8 130.4,25.8 131.8,21.8 131.8,18.6" fill="#fff"/>
<text x="167" y="44" text-anchor="start" textLength="11.5" lengthAdjust="spacingAndGlyphs" stroke="#000" stroke-width="0.17">15</text>
<rect x="154" y="48" width="25" height="10"/>
<rect x="155" y="52" width="23" height="1" fill="#fff"/>
<rect x="159" y="49" width="1" height="8" fill="#fff"/>
<rect x="164" y="49" width="1" height="8" fill="#fff"/>
<rect x="169" y="49" width="1" height="8" fill="#fff"/>
<rect x="174" y="49" width="1" height="8" fill="#fff"/>
<rect x="175" y="50" width="2" height="1" fill="#fff"/>
<rect x="154" y="70" width="26" height="15" rx="2.5"/>
<rect x="156" y="72" width="22" height="11" rx="0.5" fill="#fff"/>
<text x="167" y="81" textLength="20.5" lengthAdjust="spacingAndGlyphs" stroke="#000" stroke-width="0.17">VR1</text>
<polygon points="169.7,70.5 169.7,69 168.14,63.5 167.74,57.5 165.87,57.5 165.47,63.5 163.9,69 163.9,70.5"/>
<polygon points="168.2,72.6 168.2,69.4 166.8,65.4 165.4,69.4 165.4,72.6" fill="#fff"/>
<text x="178.7" y="63" text-anchor="start" stroke="#000" stroke-width="0.17">2</text>
<rect x="78" y="207" width="20" height="11"/>
<rect x="79" y="212" width="18" height="1" fill="#fff"/>
<rect x="83" y="208" width="1" height="9" fill="#fff"/>
<rect x="92" y="208" width="1" height="9" fill="#fff"/>
<rect x="94" y="209" width="2" height="2" fill="#fff"/>
<rect x="74" y="230" width="27" height="15" rx="2.5"/>
<rect x="76" y="232" width="23" height="11" rx="0.5" fill="#fff"/>
<text x="88.4" y="241" textLength="21" lengthAdjust="spacingAndGlyphs" stroke="#000" stroke-width="0.17">VR2</text>
<polygon points="90.9,230.5 90.9,229 89.33,223.5 88.94,217.5 87.06,217.5 86.67,223.5 85.1,229 85.1,230.5"/>
<polygon points="89.4,232.6 89.4,229.4 88,225.4 86.6,229.4 86.6,232.6" fill="#fff"/>
<text x="98.3" y="222.8" text-anchor="start" stroke="#000" stroke-width="0.17">2</text>
<rect x="120" y="205" width="38.5" height="14.6" rx="2.5"/>
<rect x="122" y="207" width="34.5" height="10.6" rx="0.5" fill="#fff"/>
<text x="139.25" y="215.8" textLength="33" lengthAdjust="spacingAndGlyphs" stroke="#000" stroke-width="0.17">SRAM1</text>
<polygon points="158.03,215.24 159.53,215.22 165.02,213.94 172.01,213.47 171.99,210.93 164.98,210.59 159.47,209.42 157.97,209.44"/>
<polygon points="155.91,213.76 159.11,213.72 163.1,212.29 159.09,210.92 155.89,210.96" fill="#fff"/>
<rect x="171" y="209" width="15" height="6"/>
<rect x="176" y="210" width="1" height="4" fill="#fff"/>
<rect x="179.5" y="210.2" width="4.5" height="3.6" fill="#fff"/>
<rect x="181" y="211.3" width="1.5" height="1.4"/>
<rect x="124" y="227" width="40.6" height="15" rx="2.5"/>
<rect x="126" y="229" width="36.6" height="11" rx="0.5" fill="#fff"/>
<text x="144.3" y="238" textLength="34" lengthAdjust="spacingAndGlyphs" stroke="#000" stroke-width="0.17">SRAM2</text>
<polygon points="163.39,231.46 164.47,230.42 167.48,225.61 172.96,219.8 171.44,218.2 165.4,223.43 160.46,226.23 159.38,227.27"/>
<polygon points="160.84,231.83 163.15,229.61 165.07,225.83 161.21,227.59 158.9,229.8" fill="#fff"/>
<rect x="171" y="216" width="15" height="6"/>
<rect x="176" y="217" width="1" height="4" fill="#fff"/>
<rect x="179.5" y="217.2" width="4.5" height="3.6" fill="#fff"/>
<rect x="181" y="218.3" width="1.5" height="1.4"/>
<rect x="193" y="204" width="68" height="20"/>
<rect x="195" y="206" width="3" height="4" fill="#fff"/>
<rect x="195" y="218" width="3" height="4" fill="#fff"/>
<rect x="200" y="206" width="3" height="4" fill="#fff"/>
<rect x="200" y="218" width="3" height="4" fill="#fff"/>
<rect x="204" y="206" width="3" height="4" fill="#fff"/>
<rect x="204" y="218" width="3" height="4" fill="#fff"/>
<rect x="209" y="206" width="3" height="4" fill="#fff"/>
<rect x="209" y="218" width="3" height="4" fill="#fff"/>
<rect x="214" y="206" width="3" height="4" fill="#fff"/>
<rect x="214" y="218" width="3" height="4" fill="#fff"/>
<rect x="218" y="206" width="3" height="4" fill="#fff"/>
<rect x="218" y="218" width="3" height="4" fill="#fff"/>
<rect x="223" y="206" width="3" height="4" fill="#fff"/>
<rect x="223" y="218" width="3" height="4" fill="#fff"/>
<rect x="228" y="206" width="3" height="4" fill="#fff"/>
<rect x="228" y="218" width="3" height="4" fill="#fff"/>
<rect x="233" y="206" width="3" height="4" fill="#fff"/>
<rect x="233" y="218" width="3" height="4" fill="#fff"/>
<rect x="237" y="206" width="3" height="4" fill="#fff"/>
<rect x="237" y="218" width="3" height="4" fill="#fff"/>
<rect x="242" y="206" width="3" height="4" fill="#fff"/>
<rect x="242" y="218" width="3" height="4" fill="#fff"/>
<rect x="247" y="206" width="3" height="4" fill="#fff"/>
<rect x="247" y="218" width="3" height="4" fill="#fff"/>
<rect x="251" y="206" width="3" height="4" fill="#fff"/>
<rect x="251" y="218" width="3" height="4" fill="#fff"/>
<rect x="256" y="206" width="3" height="4" fill="#fff"/>
<rect x="256" y="218" width="3" height="4" fill="#fff"/>
<rect x="197.6" y="212" width="57.9" height="3.5" fill="#fff"/>
<polygon points="261.2,211.8 259,213.8 261.2,215.9" fill="#fff"/>
<rect x="213.7" y="206" width="26.8" height="16.2" rx="2.5"/>
<rect x="216" y="208" width="22.6" height="12" rx="2" fill="#fff"/>
<text x="227.3" y="218" textLength="20.3" lengthAdjust="spacingAndGlyphs" stroke="#000" stroke-width="0.17">TAG</text>
<rect x="240" y="80" width="28.5" height="15" rx="2.5"/>
<rect x="242" y="82" width="24.5" height="11" rx="0.5" fill="#fff"/>
<text x="254.65" y="91" textLength="21.7" lengthAdjust="spacingAndGlyphs" stroke="#000" stroke-width="0.17">OUT</text>
<polygon points="268,90.4 269.5,90.4 275,88.83 281,88.44 281,86.56 275,86.17 269.5,84.6 268,84.6"/>
<polygon points="265.9,88.9 269.1,88.9 273.1,87.5 269.1,86.1 265.9,86.1" fill="#fff"/>
<rect x="280" y="82" width="5" height="11"/>
<rect x="281" y="83" width="3" height="1" fill="#fff"/>
<rect x="281" y="87" width="3" height="1" fill="#fff"/>
<rect x="314" y="258" width="29" height="14.6" rx="2.5"/>
<rect x="316" y="260" width="25" height="10.6" rx="0.5" fill="#fff"/>
<text x="326.2" y="269" textLength="16.6" lengthAdjust="spacingAndGlyphs" stroke="#000" stroke-width="0.17">PCI</text>
<polygon points="342.5,268.7 344,268.7 349.5,267.48 355.5,267.07 355.5,264.53 349.5,264.12 344,262.9 342.5,262.9"/>
<polygon points="340.4,267.2 343.6,267.2 347.6,265.8 343.6,264.4 340.4,264.4" fill="#fff"/>
<rect x="354" y="263" width="16" height="6"/>
<rect x="358" y="264" width="1" height="4" fill="#fff"/>
<rect x="364" y="264" width="4" height="4" fill="#fff"/>
<rect x="365" y="265" width="2" height="2"/>
<rect x="559" y="224" width="25" height="11"/>
<rect x="560" y="229" width="23" height="1" fill="#fff"/>
<rect x="560" y="225" width="1" height="9" fill="#fff"/>
<rect x="564" y="225" width="1" height="9" fill="#fff"/>
<rect x="570" y="225" width="1" height="9" fill="#fff"/>
<rect x="578" y="225" width="1" height="9" fill="#fff"/>
<rect x="580" y="226" width="2" height="2" fill="#fff"/>
<rect x="519" y="222" width="28.4" height="14.6" rx="2.5"/>
<rect x="521" y="224" width="24.4" height="10.6" rx="0.5" fill="#fff"/>
<text x="532.2" y="233" textLength="14.6" lengthAdjust="spacingAndGlyphs" stroke="#000" stroke-width="0.17">IR1</text>
<polygon points="546.88,232.41 548.38,232.42 553.89,230.98 559.99,230.62 560.01,228.58 553.91,228.14 548.42,226.62 546.92,226.61"/>
<polygon points="544.79,230.9 547.99,230.92 552,229.55 548.01,228.12 544.81,228.1" fill="#fff"/>
<rect x="224" y="294" width="33" height="14" rx="1.5"/>
<rect x="226" y="296" width="29" height="10" rx="0.5" fill="#fff"/>
<text x="240.5" y="304.7" textLength="26.5" lengthAdjust="spacingAndGlyphs" stroke="#000" stroke-width="0.17">CLK1</text>
<polygon points="253.27,307.56 254.28,308.67 258.77,312.02 262.93,315.98 265.07,314.02 261.5,309.53 258.56,304.76 257.55,303.65"/>
<polygon points="252.96,305 255.12,307.36 258.85,309.37 257.19,305.47 255.03,303.11" fill="#fff"/>
<rect x="262" y="312" width="16" height="6"/>
<rect x="267" y="313" width="1" height="4" fill="#fff"/>
<rect x="272" y="313" width="1" height="4" fill="#fff"/>
<rect x="274" y="313" width="3" height="4" fill="#fff"/>
<rect x="275" y="314" width="1" height="2"/>
<rect x="218" y="316" width="33" height="14" rx="1.5"/>
<rect x="220" y="318" width="29" height="10" rx="0.5" fill="#fff"/>
<text x="234.5" y="326.7" textLength="26.5" lengthAdjust="spacingAndGlyphs" stroke="#000" stroke-width="0.17">CLK2</text>
<polygon points="250.54,325.88 252.04,325.86 257.52,324.56 264.02,324.07 263.98,321.53 257.48,321.21 251.96,320.06 250.46,320.08"/>
<polygon points="248.42,324.41 251.62,324.37 255.6,322.91 251.58,321.57 248.38,321.61" fill="#fff"/>
<rect x="262" y="320" width="16" height="5"/>
<rect x="263" y="323" width="9" height="1" fill="#fff"/>
<rect x="267" y="321" width="1" height="2" fill="#fff"/>
<rect x="272" y="321" width="1" height="3" fill="#fff"/>
<rect x="274" y="321" width="3" height="3" fill="#fff"/>
<rect x="275" y="322" width="1" height="1"/>
<rect x="224" y="336" width="33" height="14.4" rx="1.5"/>
<rect x="226" y="338" width="29" height="10.4" rx="0.5" fill="#fff"/>
<text x="240.5" y="347" textLength="26.5" lengthAdjust="spacingAndGlyphs" stroke="#000" stroke-width="0.17">CLK3</text>
<polygon points="256.53,340.46 257.67,339.48 261.14,335.09 265.15,331.09 263.25,328.91 258.72,332.3 253.87,335.09 252.74,336.08"/>
<polygon points="253.96,340.7 256.38,338.61 258.49,334.93 254.55,336.49 252.13,338.58" fill="#fff"/>
<rect x="262" y="327" width="16" height="6"/>
<rect x="267" y="328" width="1" height="4" fill="#fff"/>
<rect x="272" y="328" width="1" height="4" fill="#fff"/>
<rect x="274" y="328" width="3" height="4" fill="#fff"/>
<rect x="275" y="329" width="1" height="2"/>
<rect x="329" y="310" width="95" height="10"/>
<rect x="330" y="314" width="93" height="1" fill="#fff"/>
<rect x="334" y="311" width="1" height="8" fill="#fff"/>
<rect x="339" y="311" width="1" height="8" fill="#fff"/>
<rect x="344" y="311" width="1" height="8" fill="#fff"/>
<rect x="348" y="311" width="1" height="8" fill="#fff"/>
<rect x="353" y="311" width="1" height="8" fill="#fff"/>
<rect x="358" y="311" width="1" height="8" fill="#fff"/>
<rect x="362" y="311" width="1" height="8" fill="#fff"/>
<rect x="367" y="311" width="1" height="8" fill="#fff"/>
<rect x="372" y="311" width="1" height="8" fill="#fff"/>
<rect x="376" y="311" width="1" height="8" fill="#fff"/>
<rect x="381" y="311" width="1" height="8" fill="#fff"/>
<rect x="386" y="311" width="1" height="8" fill="#fff"/>
<rect x="390" y="311" width="1" height="8" fill="#fff"/>
<rect x="395" y="311" width="1" height="8" fill="#fff"/>
<rect x="400" y="311" width="1" height="8" fill="#fff"/>
<rect x="404" y="311" width="1" height="8" fill="#fff"/>
<rect x="409" y="311" width="1" height="8" fill="#fff"/>
<rect x="414" y="311" width="1" height="8" fill="#fff"/>
<rect x="418" y="311" width="1" height="8" fill="#fff"/>
<rect x="420" y="312" width="2" height="2" fill="#fff"/>
<rect x="289" y="307" width="29" height="15" rx="2.5"/>
<rect x="291" y="309" width="25" height="11" rx="0.5" fill="#fff"/>
<text x="303" y="318" textLength="20.5" lengthAdjust="spacingAndGlyphs" stroke="#000" stroke-width="0.17">CN5</text>
<polygon points="317.48,317.61 318.98,317.62 324.49,316.44 329.99,316.07 330.01,313.53 324.51,313.09 319.02,311.82 317.52,311.81"/>
<polygon points="315.39,316.1 318.59,316.12 322.6,314.75 318.61,313.32 315.41,313.3" fill="#fff"/>
<rect x="329" y="327" width="95" height="11"/>
<rect x="330" y="332" width="93" height="1" fill="#fff"/>
<rect x="334" y="328" width="1" height="9" fill="#fff"/>
<rect x="339" y="328" width="1" height="9" fill="#fff"/>
<rect x="344" y="328" width="1" height="9" fill="#fff"/>
<rect x="348" y="328" width="1" height="9" fill="#fff"/>
<rect x="353" y="328" width="1" height="9" fill="#fff"/>
<rect x="358" y="328" width="1" height="9" fill="#fff"/>
<rect x="362" y="328" width="1" height="9" fill="#fff"/>
<rect x="367" y="328" width="1" height="9" fill="#fff"/>
<rect x="372" y="328" width="1" height="9" fill="#fff"/>
<rect x="376" y="328" width="1" height="9" fill="#fff"/>
<rect x="381" y="328" width="1" height="9" fill="#fff"/>
<rect x="386" y="328" width="1" height="9" fill="#fff"/>
<rect x="390" y="328" width="1" height="9" fill="#fff"/>
<rect x="395" y="328" width="1" height="9" fill="#fff"/>
<rect x="400" y="328" width="1" height="9" fill="#fff"/>
<rect x="404" y="328" width="1" height="9" fill="#fff"/>
<rect x="409" y="328" width="1" height="9" fill="#fff"/>
<rect x="414" y="328" width="1" height="9" fill="#fff"/>
<rect x="418" y="328" width="1" height="9" fill="#fff"/>
<rect x="420" y="329" width="2" height="2" fill="#fff"/>
<rect x="289" y="325" width="29" height="15" rx="2.5"/>
<rect x="291" y="327" width="25" height="11" rx="0.5" fill="#fff"/>
<text x="303" y="336" textLength="20.5" lengthAdjust="spacingAndGlyphs" stroke="#000" stroke-width="0.17">CN6</text>
<polygon points="317.48,335.41 318.98,335.42 324.49,334.24 329.99,333.87 330.01,331.33 324.51,330.89 319.02,329.62 317.52,329.61"/>
<polygon points="315.39,333.9 318.59,333.92 322.6,332.55 318.61,331.12 315.41,331.1" fill="#fff"/>
<rect x="464" y="297.4" width="11" height="80.6"/>
<rect x="469" y="298.5" width="1" height="78.5" fill="#fff"/>
<rect x="473" y="298.5" width="1" height="78.5" fill="#fff"/>
<rect x="465" y="299" width="9" height="1" fill="#fff"/>
<rect x="465" y="303" width="9" height="1" fill="#fff"/>
<rect x="465" y="308" width="9" height="1" fill="#fff"/>
<rect x="465" y="312" width="9" height="1" fill="#fff"/>
<rect x="465" y="317" width="9" height="1" fill="#fff"/>
<rect x="465" y="321" width="9" height="1" fill="#fff"/>
<rect x="465" y="325" width="9" height="1" fill="#fff"/>
<rect x="465" y="330" width="9" height="1" fill="#fff"/>
<rect x="465" y="334" width="9" height="1" fill="#fff"/>
<rect x="465" y="339" width="9" height="1" fill="#fff"/>
<rect x="465" y="343" width="9" height="1" fill="#fff"/>
<rect x="465" y="348" width="9" height="1" fill="#fff"/>
<rect x="465" y="352" width="9" height="1" fill="#fff"/>
<rect x="465" y="357" width="9" height="1" fill="#fff"/>
<rect x="465" y="361" width="9" height="1" fill="#fff"/>
<rect x="465" y="366" width="9" height="1" fill="#fff"/>
<rect x="465" y="370" width="9" height="1" fill="#fff"/>
<rect x="465" y="375" width="9" height="1" fill="#fff"/>
<rect x="470.6" y="373.8" width="1.4" height="2.6" fill="#fff"/>
<rect x="424.5" y="338.4" width="28.5" height="15.2" rx="2.5"/>
<rect x="426.5" y="340.4" width="24.5" height="11.2" rx="0.5" fill="#fff"/>
<text x="438.75" y="349.8" textLength="21" lengthAdjust="spacingAndGlyphs" stroke="#000" stroke-width="0.17">CN4</text>
<polygon points="452.53,348.63 454.03,348.62 459.52,347.16 465.01,346.7 464.99,344.5 459.48,344.15 453.97,342.82 452.47,342.83"/>
<polygon points="450.42,347.16 453.61,347.12 457.6,345.68 453.58,344.32 450.39,344.36" fill="#fff"/>
<rect x="479" y="293.6" width="20" height="89.4"/>
<rect x="480.2" y="294.8" width="17.6" height="87" fill="#fff"/>
<rect x="484" y="293.6" width="2" height="2.2" fill="#fff"/>
<rect x="483.3" y="294.8" width="1" height="1.8"/>
<rect x="485.8" y="294.8" width="1" height="1.8"/>
<rect x="482" y="299" width="6" height="6"/>
<rect x="483.2" y="300.2" width="3.6" height="3.6" fill="#fff"/>
<rect x="489" y="297" width="2" height="6"/>
<circle cx="495.5" cy="302" r="2.2"/>
<rect x="493" y="298" width="2" height="1"/>
<rect x="482" y="306" width="6" height="6"/>
<rect x="483.2" y="307.2" width="3.6" height="3.6" fill="#fff"/>
<rect x="489" y="304" width="2" height="6"/>
<circle cx="495.5" cy="309" r="2.2"/>
<rect x="493" y="305" width="2" height="1"/>
<rect x="482" y="314" width="6" height="6"/>
<rect x="483.2" y="315.2" width="3.6" height="3.6" fill="#fff"/>
<rect x="489" y="312" width="2" height="6"/>
<circle cx="495.5" cy="317" r="2.2"/>
<rect x="493" y="313" width="2" height="1"/>
<rect x="482" y="321" width="6" height="6"/>
<rect x="483.2" y="322.2" width="3.6" height="3.6" fill="#fff"/>
<rect x="489" y="319" width="2" height="6"/>
<circle cx="495.5" cy="324" r="2.2"/>
<rect x="493" y="320" width="2" height="1"/>
<rect x="482" y="329" width="6" height="6"/>
<rect x="483.2" y="330.2" width="3.6" height="3.6" fill="#fff"/>
<rect x="489" y="327" width="2" height="6"/>
<circle cx="495.5" cy="332" r="2.2"/>
<rect x="493" y="328" width="2" height="1"/>
<rect x="482" y="336" width="6" height="6"/>
<rect x="483.2" y="337.2" width="3.6" height="3.6" fill="#fff"/>
<rect x="489" y="334" width="2" height="6"/>
<circle cx="495.5" cy="339" r="2.2"/>
<rect x="493" y="335" width="2" height="1"/>
<rect x="482" y="344" width="6" height="6"/>
<rect x="483.2" y="345.2" width="3.6" height="3.6" fill="#fff"/>
<rect x="489" y="342" width="2" height="6"/>
<circle cx="495.5" cy="347" r="2.2"/>
<rect x="493" y="343" width="2" height="1"/>
<rect x="482" y="351" width="6" height="6"/>
<rect x="483.2" y="352.2" width="3.6" height="3.6" fill="#fff"/>
<rect x="489" y="349" width="2" height="6"/>
<circle cx="495.5" cy="354" r="2.2"/>
<rect x="493" y="350" width="2" height="1"/>
<rect x="482" y="359" width="6" height="6"/>
<rect x="483.2" y="360.2" width="3.6" height="3.6" fill="#fff"/>
<rect x="489" y="357" width="2" height="6"/>
<circle cx="495.5" cy="362" r="2.2"/>
<rect x="493" y="358" width="2" height="1"/>
<rect x="482" y="366" width="6" height="6"/>
<rect x="483.2" y="367.2" width="3.6" height="3.6" fill="#fff"/>
<rect x="489" y="364" width="2" height="6"/>
<circle cx="495.5" cy="369" r="2.2"/>
<rect x="493" y="365" width="2" height="1"/>
<rect x="482" y="374" width="6" height="6"/>
<rect x="483.2" y="375.2" width="3.6" height="3.6" fill="#fff"/>
<rect x="489" y="372" width="2" height="6"/>
<circle cx="495.5" cy="377" r="2.2"/>
<rect x="493" y="373" width="2" height="1"/>
<rect x="494.8" y="296" width="0.9" height="85"/>
<rect x="488.6" y="381.8" width="9.2" height="1.2"/>
<rect x="505" y="321" width="10" height="62"/>
<rect x="510" y="323" width="1" height="58" fill="#fff"/>
<rect x="506" y="326" width="8" height="1" fill="#fff"/>
<rect x="506" y="331" width="8" height="1" fill="#fff"/>
<rect x="506" y="336" width="8" height="1" fill="#fff"/>
<rect x="506" y="340" width="8" height="1" fill="#fff"/>
<rect x="506" y="345" width="8" height="1" fill="#fff"/>
<rect x="506" y="350" width="8" height="1" fill="#fff"/>
<rect x="506" y="354" width="8" height="1" fill="#fff"/>
<rect x="506" y="359" width="8" height="2" fill="#fff"/>
<rect x="506" y="364" width="8" height="1" fill="#fff"/>
<rect x="506" y="368" width="8" height="1" fill="#fff"/>
<rect x="506" y="373" width="8" height="1" fill="#fff"/>
<rect x="506" y="378" width="8" height="1" fill="#fff"/>
<rect x="512" y="379" width="1.3" height="2" fill="#fff"/>
<rect x="524" y="322" width="10" height="25"/>
<rect x="529" y="324" width="1" height="21" fill="#fff"/>
<rect x="525" y="324" width="8" height="1" fill="#fff"/>
<rect x="525" y="328" width="8" height="1" fill="#fff"/>
<rect x="525" y="333" width="8" height="1" fill="#fff"/>
<rect x="525" y="337" width="8" height="1" fill="#fff"/>
<rect x="525" y="342" width="8" height="1" fill="#fff"/>
<rect x="531" y="343.6" width="1.3" height="2" fill="#fff"/>
<rect x="519.6" y="295" width="26.4" height="15" rx="2.5"/>
<rect x="521.6" y="297" width="22.4" height="11" rx="0.5" fill="#fff"/>
<text x="533.3" y="306" textLength="21.5" lengthAdjust="spacingAndGlyphs" stroke="#000" stroke-width="0.17">CN1</text>
<polygon points="528.81,309.52 528.82,311.02 530.34,316.51 530.78,322.51 532.82,322.49 533.18,316.49 534.62,310.98 534.61,309.48"/>
<polygon points="530.3,307.41 530.32,310.61 531.75,314.6 533.12,310.59 533.1,307.39" fill="#fff"/>
<rect x="524" y="356" width="10" height="25"/>
<rect x="529" y="358" width="1" height="21" fill="#fff"/>
<rect x="525" y="358" width="8" height="1" fill="#fff"/>
<rect x="525" y="362" width="8" height="1" fill="#fff"/>
<rect x="525" y="366" width="8" height="1" fill="#fff"/>
<rect x="525" y="371" width="8" height="1" fill="#fff"/>
<rect x="525" y="375" width="8" height="1" fill="#fff"/>
<rect x="531" y="377.6" width="1.3" height="2" fill="#fff"/>
<rect x="505" y="297.2" width="14.6" height="5.6"/>
<rect x="506.8" y="298.4" width="1" height="3.3" fill="#fff"/>
<rect x="509.6" y="298.4" width="1" height="3.3" fill="#fff"/>
<rect x="512.2" y="298.4" width="1" height="3.3" fill="#fff"/>
<rect x="514.8" y="298.4" width="1" height="3.3" fill="#fff"/>
<rect x="512.4" y="290" width="2.6" height="7.5"/>
<rect x="501" y="269.3" width="26.4" height="15" rx="2.5"/>
<rect x="503" y="271.3" width="22.4" height="11" rx="0.5" fill="#fff"/>
<text x="515" y="280.3" textLength="22.5" lengthAdjust="spacingAndGlyphs" stroke="#000" stroke-width="0.17">RPW</text>
<rect x="512.6" y="281.5" width="2.2" height="3" fill="#fff"/>
<rect x="563" y="312" width="25" height="6"/>
<rect x="564" y="313" width="23" height="4" fill="#fff"/>
<rect x="563" y="321" width="25" height="5"/>
<rect x="564" y="322" width="23" height="3" fill="#fff"/>
<rect x="563" y="340" width="25" height="5"/>
<rect x="564" y="341" width="23" height="3" fill="#fff"/>
<rect x="558" y="284" width="36" height="14.6" rx="2.5"/>
<rect x="560" y="286" width="32" height="10.6" rx="0.5" fill="#fff"/>
<text x="575.15" y="295" textLength="27.5" lengthAdjust="spacingAndGlyphs" stroke="#000" stroke-width="0.17">USB2</text>
<polygon points="572.6,298.1 572.6,299.6 574.25,305.1 574.65,314 576.35,314 576.75,305.1 578.4,299.6 578.4,298.1"/>
<polygon points="574.1,296 574.1,299.2 575.5,303.2 576.9,299.2 576.9,296" fill="#fff"/>
<rect x="600" y="315.4" width="34" height="14.4" rx="2.5"/>
<rect x="602" y="317.4" width="30" height="10.4" rx="0.5" fill="#fff"/>
<text x="617" y="326.2" textLength="27.5" lengthAdjust="spacingAndGlyphs" stroke="#000" stroke-width="0.17">USB1</text>
<polygon points="600.5,320.3 599,320.3 593.5,321.95 586,322.35 586,324.05 593.5,324.45 599,326.1 600.5,326.1"/>
<polygon points="602.6,321.8 599.4,321.8 595.4,323.2 599.4,324.6 602.6,324.6" fill="#fff"/>
<rect x="600" y="335" width="27.8" height="14.6" rx="2.5"/>
<rect x="602" y="337" width="23.8" height="10.6" rx="0.5" fill="#fff"/>
<text x="613.9" y="346" textLength="21" lengthAdjust="spacingAndGlyphs" stroke="#000" stroke-width="0.17">CN7</text>
<polygon points="600.48,339.41 598.98,339.42 593.49,341.1 585.99,341.55 586.01,343.25 593.51,343.6 599.02,345.22 600.52,345.21"/>
<polygon points="602.59,340.9 599.39,340.92 595.4,342.34 599.41,343.72 602.61,343.7" fill="#fff"/>
<polygon points="593.5,351.3 589.6,351.3 589.6,355 580,355.6 569,356.6 569,374 564,374 564,379 566,379 569,381 569,386 588,386 588,389.7 591,389.7 591,392 593.5,392"/>
<rect x="565" y="376.5" width="1.5" height="2" fill="#fff"/>
<rect x="546" y="360" width="27" height="15.3" rx="2.5"/>
<rect x="548" y="362" width="23" height="11.3" rx="0.5" fill="#fff"/>
<text x="559.5" y="372" textLength="21" lengthAdjust="spacingAndGlyphs" stroke="#000" stroke-width="0.17">CN2</text>
<polygon points="546.52,364.79 545.02,364.78 539.51,366.22 533.51,366.58 533.49,368.62 539.49,369.06 544.98,370.58 546.48,370.59"/>
<polygon points="548.61,366.3 545.41,366.28 541.4,367.65 545.39,369.08 548.59,369.1" fill="#fff"/>
<rect x="18" y="342" width="39" height="14.4" rx="1.5"/>
<rect x="20" y="344" width="35" height="10.4" rx="0.5" fill="#fff"/>
<text x="37.5" y="353" textLength="34.4" lengthAdjust="spacingAndGlyphs" stroke="#000" stroke-width="0.17">SRAM3</text>
<polygon points="56.48,352.21 57.98,352.22 63.49,350.86 69.99,350.5 70.01,348.3 63.51,347.85 58.02,346.42 56.52,346.41"/>
<polygon points="54.39,350.7 57.59,350.72 61.6,349.34 57.61,347.92 54.41,347.9" fill="#fff"/>
<rect x="68" y="347" width="15.6" height="5.4"/>
<rect x="70" y="350" width="12" height="1" fill="#fff"/>
<rect x="73" y="348" width="1" height="2" fill="#fff"/>
<rect x="77" y="348" width="1" height="2" fill="#fff"/>
<rect x="80" y="348" width="1" height="2" fill="#fff"/>
<rect x="234" y="357" width="223" height="13"/>
<rect x="235" y="358" width="221" height="11" fill="#fff"/>
<rect x="235" y="360" width="6" height="1"/>
<rect x="235" y="364" width="6" height="1"/>
<rect x="450" y="360" width="6" height="1"/>
<rect x="450" y="364" width="6" height="1"/>
<rect x="241" y="357" width="3" height="13"/>
<rect x="447" y="357" width="3" height="13"/>
<rect x="244" y="359" width="8" height="1"/>
<rect x="251" y="359" width="1" height="7"/>
<rect x="245" y="363" width="5" height="1"/>
<rect x="245" y="363" width="1" height="3"/>
<rect x="244" y="365" width="2" height="1"/>
<rect x="249" y="363" width="1" height="6"/>
<rect x="250" y="365" width="2" height="1"/>
<rect x="244" y="368" width="6" height="1"/>
<rect x="439" y="359" width="8" height="1"/>
<rect x="439" y="359" width="1" height="7"/>
<rect x="441" y="363" width="5" height="1"/>
<rect x="445" y="363" width="1" height="3"/>
<rect x="445" y="365" width="2" height="1"/>
<rect x="441" y="363" width="1" height="6"/>
<rect x="439" y="365" width="2" height="1"/>
<rect x="441" y="368" width="6" height="1"/>
<rect x="253" y="359" width="185" height="9"/>
<rect x="255" y="360" width="1" height="3" fill="#fff"/>
<rect x="257" y="360" width="1" height="3" fill="#fff"/>
<rect x="264" y="360" width="1" height="3" fill="#fff"/>
<rect x="266" y="360" width="1" height="3" fill="#fff"/>
<rect x="268" y="360" width="1" height="3" fill="#fff"/>
<rect x="270" y="360" width="1" height="3" fill="#fff"/>
<rect x="279" y="360" width="1" height="3" fill="#fff"/>
<rect x="281" y="360" width="1" height="3" fill="#fff"/>
<rect x="283" y="360" width="1" height="3" fill="#fff"/>
<rect x="285" y="360" width="1" height="3" fill="#fff"/>
<rect x="287" y="360" width="1" height="3" fill="#fff"/>
<rect x="294" y="360" width="1" height="3" fill="#fff"/>
<rect x="296" y="360" width="1" height="3" fill="#fff"/>
<rect x="298" y="360" width="1" height="3" fill="#fff"/>
<rect x="300" y="360" width="1" height="3" fill="#fff"/>
<rect x="312" y="360" width="1" height="3" fill="#fff"/>
<rect x="314" y="360" width="1" height="3" fill="#fff"/>
<rect x="316" y="360" width="1" height="3" fill="#fff"/>
<rect x="325" y="360" width="1" height="3" fill="#fff"/>
<rect x="327" y="360" width="1" height="3" fill="#fff"/>
<rect x="329" y="360" width="1" height="3" fill="#fff"/>
<rect x="331" y="360" width="1" height="3" fill="#fff"/>
<rect x="333" y="360" width="1" height="3" fill="#fff"/>
<rect x="337" y="360" width="1" height="3" fill="#fff"/>
<rect x="339" y="360" width="1" height="3" fill="#fff"/>
<rect x="350" y="360" width="1" height="3" fill="#fff"/>
<rect x="352" y="360" width="1" height="3" fill="#fff"/>
<rect x="362" y="360" width="1" height="3" fill="#fff"/>
<rect x="364" y="360" width="1" height="3" fill="#fff"/>
<rect x="366" y="360" width="1" height="3" fill="#fff"/>
<rect x="368" y="360" width="1" height="3" fill="#fff"/>
<rect x="375" y="360" width="1" height="3" fill="#fff"/>
<rect x="377" y="360" width="1" height="3" fill="#fff"/>
<rect x="379" y="360" width="1" height="3" fill="#fff"/>
<rect x="381" y="360" width="1" height="3" fill="#fff"/>
<rect x="383" y="360" width="1" height="3" fill="#fff"/>
<rect x="390" y="360" width="1" height="3" fill="#fff"/>
<rect x="392" y="360" width="1" height="3" fill="#fff"/>
<rect x="394" y="360" width="1" height="3" fill="#fff"/>
<rect x="396" y="360" width="1" height="3" fill="#fff"/>
<rect x="410" y="360" width="1" height="3" fill="#fff"/>
<rect x="412" y="360" width="1" height="3" fill="#fff"/>
<rect x="422" y="360" width="1" height="3" fill="#fff"/>
<rect x="424" y="360" width="1" height="3" fill="#fff"/>
<rect x="426" y="360" width="1" height="3" fill="#fff"/>
<rect x="428" y="360" width="1" height="3" fill="#fff"/>
<rect x="432" y="360" width="1" height="3" fill="#fff"/>
<rect x="434" y="360" width="1" height="3" fill="#fff"/>
<rect x="234" y="370" width="223" height="13"/>
<rect x="235" y="371" width="221" height="11" fill="#fff"/>
<rect x="235" y="373" width="6" height="1"/>
<rect x="235" y="377" width="6" height="1"/>
<rect x="450" y="373" width="6" height="1"/>
<rect x="450" y="377" width="6" height="1"/>
<rect x="241" y="370" width="3" height="13"/>
<rect x="447" y="370" width="3" height="13"/>
<rect x="244" y="372" width="8" height="1"/>
<rect x="251" y="372" width="1" height="7"/>
<rect x="245" y="376" width="5" height="1"/>
<rect x="245" y="376" width="1" height="3"/>
<rect x="244" y="378" width="2" height="1"/>
<rect x="249" y="376" width="1" height="6"/>
<rect x="250" y="378" width="2" height="1"/>
<rect x="244" y="381" width="6" height="1"/>
<rect x="439" y="372" width="8" height="1"/>
<rect x="439" y="372" width="1" height="7"/>
<rect x="441" y="376" width="5" height="1"/>
<rect x="445" y="376" width="1" height="3"/>
<rect x="445" y="378" width="2" height="1"/>
<rect x="441" y="376" width="1" height="6"/>
<rect x="439" y="378" width="2" height="1"/>
<rect x="441" y="381" width="6" height="1"/>
<rect x="253" y="372" width="185" height="9"/>
<rect x="255" y="374" width="1" height="3" fill="#fff"/>
<rect x="257" y="374" width="1" height="3" fill="#fff"/>
<rect x="264" y="374" width="1" height="3" fill="#fff"/>
<rect x="266" y="374" width="1" height="3" fill="#fff"/>
<rect x="268" y="374" width="1" height="3" fill="#fff"/>
<rect x="270" y="374" width="1" height="3" fill="#fff"/>
<rect x="279" y="374" width="1" height="3" fill="#fff"/>
<rect x="281" y="374" width="1" height="3" fill="#fff"/>
<rect x="283" y="374" width="1" height="3" fill="#fff"/>
<rect x="285" y="374" width="1" height="3" fill="#fff"/>
<rect x="287" y="374" width="1" height="3" fill="#fff"/>
<rect x="294" y="374" width="1" height="3" fill="#fff"/>
<rect x="296" y="374" width="1" height="3" fill="#fff"/>
<rect x="298" y="374" width="1" height="3" fill="#fff"/>
<rect x="300" y="374" width="1" height="3" fill="#fff"/>
<rect x="312" y="374" width="1" height="3" fill="#fff"/>
<rect x="314" y="374" width="1" height="3" fill="#fff"/>
<rect x="316" y="374" width="1" height="3" fill="#fff"/>
<rect x="325" y="374" width="1" height="3" fill="#fff"/>
<rect x="327" y="374" width="1" height="3" fill="#fff"/>
<rect x="329" y="374" width="1" height="3" fill="#fff"/>
<rect x="331" y="374" width="1" height="3" fill="#fff"/>
<rect x="333" y="374" width="1" height="3" fill="#fff"/>
<rect x="337" y="374" width="1" height="3" fill="#fff"/>
<rect x="339" y="374" width="1" height="3" fill="#fff"/>
<rect x="350" y="374" width="1" height="3" fill="#fff"/>
<rect x="352" y="374" width="1" height="3" fill="#fff"/>
<rect x="362" y="374" width="1" height="3" fill="#fff"/>
<rect x="364" y="374" width="1" height="3" fill="#fff"/>
<rect x="366" y="374" width="1" height="3" fill="#fff"/>
<rect x="368" y="374" width="1" height="3" fill="#fff"/>
<rect x="375" y="374" width="1" height="3" fill="#fff"/>
<rect x="377" y="374" width="1" height="3" fill="#fff"/>
<rect x="379" y="374" width="1" height="3" fill="#fff"/>
<rect x="381" y="374" width="1" height="3" fill="#fff"/>
<rect x="383" y="374" width="1" height="3" fill="#fff"/>
<rect x="390" y="374" width="1" height="3" fill="#fff"/>
<rect x="392" y="374" width="1" height="3" fill="#fff"/>
<rect x="394" y="374" width="1" height="3" fill="#fff"/>
<rect x="396" y="374" width="1" height="3" fill="#fff"/>
<rect x="410" y="374" width="1" height="3" fill="#fff"/>
<rect x="412" y="374" width="1" height="3" fill="#fff"/>
<rect x="422" y="374" width="1" height="3" fill="#fff"/>
<rect x="424" y="374" width="1" height="3" fill="#fff"/>
<rect x="426" y="374" width="1" height="3" fill="#fff"/>
<rect x="428" y="374" width="1" height="3" fill="#fff"/>
<rect x="432" y="374" width="1" height="3" fill="#fff"/>
<rect x="434" y="374" width="1" height="3" fill="#fff"/>
<rect x="266" y="372" width="1" height="1" fill="#fff"/>
<rect x="268" y="372" width="1" height="1" fill="#fff"/>
<rect x="281" y="372" width="1" height="1" fill="#fff"/>
<rect x="283" y="372" width="1" height="1" fill="#fff"/>
<rect x="296" y="372" width="1" height="1" fill="#fff"/>
<rect x="314" y="372" width="1" height="1" fill="#fff"/>
<rect x="377" y="372" width="1" height="1" fill="#fff"/>
<rect x="379" y="372" width="1" height="1" fill="#fff"/>
<rect x="392" y="372" width="1" height="1" fill="#fff"/>
<rect x="424" y="372" width="1" height="1" fill="#fff"/>
<rect x="426" y="372" width="1" height="1" fill="#fff"/>
<rect x="341" y="358" width="8" height="3.3" fill="#fff"/>
<rect x="342" y="378" width="7" height="3.4" fill="#fff"/>
<rect x="322" y="362.6" width="48" height="14"/>
<rect x="324" y="364" width="44.6" height="11.5" rx="1" fill="#fff"/>
<text x="346.3" y="374.2" textLength="40" lengthAdjust="spacingAndGlyphs" stroke="#000" stroke-width="0.17">BANK 2</text>
<rect x="273" y="390" width="258" height="12"/>
<rect x="274" y="391" width="256" height="10" fill="#fff"/>
<rect x="274" y="393" width="6" height="1"/>
<rect x="274" y="397" width="6" height="1"/>
<rect x="524" y="393" width="6" height="1"/>
<rect x="524" y="397" width="6" height="1"/>
<rect x="280" y="390" width="3" height="12"/>
<rect x="521" y="390" width="3" height="12"/>
<rect x="283" y="392" width="8" height="1"/>
<rect x="290" y="392" width="1" height="7"/>
<rect x="284" y="396" width="5" height="1"/>
<rect x="284" y="396" width="1" height="3"/>
<rect x="283" y="398" width="2" height="1"/>
<rect x="288" y="396" width="1" height="5"/>
<rect x="289" y="398" width="2" height="1"/>
<rect x="283" y="400" width="6" height="1"/>
<rect x="513" y="392" width="8" height="1"/>
<rect x="513" y="392" width="1" height="7"/>
<rect x="515" y="396" width="5" height="1"/>
<rect x="519" y="396" width="1" height="3"/>
<rect x="519" y="398" width="2" height="1"/>
<rect x="515" y="396" width="1" height="5"/>
<rect x="513" y="398" width="2" height="1"/>
<rect x="515" y="400" width="6" height="1"/>
<rect x="292" y="392" width="220" height="8"/>
<rect x="295" y="394" width="1" height="3" fill="#fff"/>
<rect x="297" y="394" width="1" height="3" fill="#fff"/>
<rect x="304" y="394" width="1" height="3" fill="#fff"/>
<rect x="306" y="394" width="1" height="3" fill="#fff"/>
<rect x="308" y="394" width="1" height="3" fill="#fff"/>
<rect x="310" y="394" width="1" height="3" fill="#fff"/>
<rect x="319" y="394" width="1" height="3" fill="#fff"/>
<rect x="321" y="394" width="1" height="3" fill="#fff"/>
<rect x="323" y="394" width="1" height="3" fill="#fff"/>
<rect x="325" y="394" width="1" height="3" fill="#fff"/>
<rect x="327" y="394" width="1" height="3" fill="#fff"/>
<rect x="334" y="394" width="1" height="3" fill="#fff"/>
<rect x="336" y="394" width="1" height="3" fill="#fff"/>
<rect x="338" y="394" width="1" height="3" fill="#fff"/>
<rect x="340" y="394" width="1" height="3" fill="#fff"/>
<rect x="355" y="394" width="1" height="3" fill="#fff"/>
<rect x="357" y="394" width="1" height="3" fill="#fff"/>
<rect x="368" y="394" width="1" height="3" fill="#fff"/>
<rect x="370" y="394" width="1" height="3" fill="#fff"/>
<rect x="372" y="394" width="1" height="3" fill="#fff"/>
<rect x="374" y="394" width="1" height="3" fill="#fff"/>
<rect x="430" y="394" width="1" height="3" fill="#fff"/>
<rect x="432" y="394" width="1" height="3" fill="#fff"/>
<rect x="434" y="394" width="1" height="3" fill="#fff"/>
<rect x="436" y="394" width="1" height="3" fill="#fff"/>
<rect x="449" y="394" width="1" height="3" fill="#fff"/>
<rect x="451" y="394" width="1" height="3" fill="#fff"/>
<rect x="453" y="394" width="1" height="3" fill="#fff"/>
<rect x="462" y="394" width="1" height="3" fill="#fff"/>
<rect x="464" y="394" width="1" height="3" fill="#fff"/>
<rect x="466" y="394" width="1" height="3" fill="#fff"/>
<rect x="468" y="394" width="1" height="3" fill="#fff"/>
<rect x="470" y="394" width="1" height="3" fill="#fff"/>
<rect x="476" y="394" width="1" height="3" fill="#fff"/>
<rect x="486" y="394" width="1" height="3" fill="#fff"/>
<rect x="488" y="394" width="1" height="3" fill="#fff"/>
<rect x="496" y="394" width="1" height="3" fill="#fff"/>
<rect x="498" y="394" width="1" height="3" fill="#fff"/>
<rect x="500" y="394" width="1" height="3" fill="#fff"/>
<rect x="502" y="394" width="1" height="3" fill="#fff"/>
<rect x="509" y="394" width="1" height="3" fill="#fff"/>
<rect x="511" y="394" width="1" height="3" fill="#fff"/>
<rect x="306" y="392" width="1" height="1" fill="#fff"/>
<rect x="308" y="392" width="1" height="1" fill="#fff"/>
<rect x="321" y="392" width="1" height="1" fill="#fff"/>
<rect x="323" y="392" width="1" height="1" fill="#fff"/>
<rect x="336" y="392" width="1" height="1" fill="#fff"/>
<rect x="370" y="392" width="1" height="1" fill="#fff"/>
<rect x="432" y="392" width="1" height="1" fill="#fff"/>
<rect x="434" y="392" width="1" height="1" fill="#fff"/>
<rect x="451" y="392" width="1" height="1" fill="#fff"/>
<rect x="464" y="392" width="1" height="1" fill="#fff"/>
<rect x="466" y="392" width="1" height="1" fill="#fff"/>
<rect x="273" y="406" width="258" height="13"/>
<rect x="274" y="407" width="256" height="11" fill="#fff"/>
<rect x="274" y="409" width="6" height="1"/>
<rect x="274" y="413" width="6" height="1"/>
<rect x="524" y="409" width="6" height="1"/>
<rect x="524" y="413" width="6" height="1"/>
<rect x="280" y="406" width="3" height="13"/>
<rect x="521" y="406" width="3" height="13"/>
<rect x="283" y="408" width="8" height="1"/>
<rect x="290" y="408" width="1" height="7"/>
<rect x="284" y="412" width="5" height="1"/>
<rect x="284" y="412" width="1" height="3"/>
<rect x="283" y="414" width="2" height="1"/>
<rect x="288" y="412" width="1" height="6"/>
<rect x="289" y="414" width="2" height="1"/>
<rect x="283" y="417" width="6" height="1"/>
<rect x="513" y="408" width="8" height="1"/>
<rect x="513" y="408" width="1" height="7"/>
<rect x="515" y="412" width="5" height="1"/>
<rect x="519" y="412" width="1" height="3"/>
<rect x="519" y="414" width="2" height="1"/>
<rect x="515" y="412" width="1" height="6"/>
<rect x="513" y="414" width="2" height="1"/>
<rect x="515" y="417" width="6" height="1"/>
<rect x="292" y="408" width="220" height="9"/>
<rect x="295" y="409" width="1" height="3" fill="#fff"/>
<rect x="297" y="409" width="1" height="3" fill="#fff"/>
<rect x="304" y="409" width="1" height="3" fill="#fff"/>
<rect x="306" y="409" width="1" height="3" fill="#fff"/>
<rect x="308" y="409" width="1" height="3" fill="#fff"/>
<rect x="310" y="409" width="1" height="3" fill="#fff"/>
<rect x="319" y="409" width="1" height="3" fill="#fff"/>
<rect x="321" y="409" width="1" height="3" fill="#fff"/>
<rect x="323" y="409" width="1" height="3" fill="#fff"/>
<rect x="325" y="409" width="1" height="3" fill="#fff"/>
<rect x="327" y="409" width="1" height="3" fill="#fff"/>
<rect x="334" y="409" width="1" height="3" fill="#fff"/>
<rect x="336" y="409" width="1" height="3" fill="#fff"/>
<rect x="338" y="409" width="1" height="3" fill="#fff"/>
<rect x="340" y="409" width="1" height="3" fill="#fff"/>
<rect x="355" y="409" width="1" height="3" fill="#fff"/>
<rect x="357" y="409" width="1" height="3" fill="#fff"/>
<rect x="368" y="409" width="1" height="3" fill="#fff"/>
<rect x="370" y="409" width="1" height="3" fill="#fff"/>
<rect x="372" y="409" width="1" height="3" fill="#fff"/>
<rect x="374" y="409" width="1" height="3" fill="#fff"/>
<rect x="430" y="409" width="1" height="3" fill="#fff"/>
<rect x="432" y="409" width="1" height="3" fill="#fff"/>
<rect x="434" y="409" width="1" height="3" fill="#fff"/>
<rect x="436" y="409" width="1" height="3" fill="#fff"/>
<rect x="449" y="409" width="1" height="3" fill="#fff"/>
<rect x="451" y="409" width="1" height="3" fill="#fff"/>
<rect x="453" y="409" width="1" height="3" fill="#fff"/>
<rect x="462" y="409" width="1" height="3" fill="#fff"/>
<rect x="464" y="409" width="1" height="3" fill="#fff"/>
<rect x="466" y="409" width="1" height="3" fill="#fff"/>
<rect x="468" y="409" width="1" height="3" fill="#fff"/>
<rect x="470" y="409" width="1" height="3" fill="#fff"/>
<rect x="476" y="409" width="1" height="3" fill="#fff"/>
<rect x="486" y="409" width="1" height="3" fill="#fff"/>
<rect x="488" y="409" width="1" height="3" fill="#fff"/>
<rect x="496" y="409" width="1" height="3" fill="#fff"/>
<rect x="498" y="409" width="1" height="3" fill="#fff"/>
<rect x="500" y="409" width="1" height="3" fill="#fff"/>
<rect x="502" y="409" width="1" height="3" fill="#fff"/>
<rect x="509" y="409" width="1" height="3" fill="#fff"/>
<rect x="511" y="409" width="1" height="3" fill="#fff"/>
<rect x="478" y="407" width="5" height="11" fill="#fff"/>
<rect x="378.6" y="388" width="47.2" height="15.2" rx="3"/>
<rect x="380.6" y="390" width="43.2" height="11.2" rx="1" fill="#fff"/>
<text x="402.2" y="399.2" textLength="38.6" lengthAdjust="spacingAndGlyphs" stroke="#000" stroke-width="0.17">BANK 0</text>
<rect x="378.6" y="405" width="47.2" height="15" rx="3"/>
<rect x="380.6" y="407" width="43.2" height="11" rx="1" fill="#fff"/>
<text x="402.2" y="416" textLength="38.6" lengthAdjust="spacingAndGlyphs" stroke="#000" stroke-width="0.17">BANK 1</text>
<rect x="478" y="388" width="27.5" height="15" rx="2.5"/>
<rect x="480" y="390" width="23.5" height="11" rx="0.5" fill="#fff"/>
<text x="491.75" y="399" textLength="21" lengthAdjust="spacingAndGlyphs" stroke="#000" stroke-width="0.17">CN3</text>
<polygon points="503.11,391.47 504.3,390.55 507.6,385.84 513,381.14 512,379.86 506.12,383.93 500.74,385.97 499.55,386.89"/>
<polygon points="500.54,391.57 503.06,389.61 505.36,386.05 501.34,387.4 498.82,389.36" fill="#fff"/>
</g>
</svg>
</body>
</html>
